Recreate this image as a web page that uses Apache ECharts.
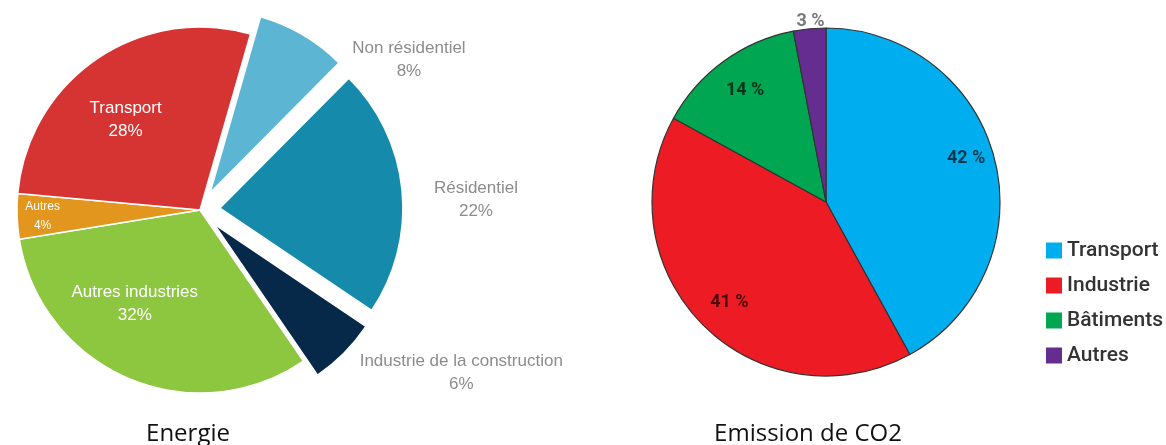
<!DOCTYPE html>
<html>
<head>
<meta charset="utf-8">
<script src="https://cdn.jsdelivr.net/npm/echarts@6/dist/echarts.min.js"></script>
<style>
  html, body { margin: 0; padding: 0; background: #fff; }
  #chart { width: 1166px; height: 445px; }
</style>
</head>
<body>
<div id="chart"></div>
<script>
const energyNames = ['Non résidentiel', 'Résidentiel', 'Industrie de la construction', 'Autres industries', 'Autres', 'Transport'];
const energyValues = [8, 22, 6, 32, 4, 28];
const co2Names = ['Transport', 'Industrie', 'Bâtiments', 'Autres'];
const co2Values = [42, 41, 14, 3];

const energyColors = ['#5bb5d3', '#168aaa', '#06294a', '#8dc63f', '#e2961e', '#d63333'];
const energyExploded = [true, true, true, false, false, false];
const energyLabelOffsets = [[151, -51], [162, 1], [180, 82], [-28, 7], [-63, 3], [-21, -12]];
const co2Colors = ['#00aeef', '#ed1c24', '#00a651', '#662d91'];
const co2LabelOffsets = [[53, -21], [-33, 37], [-28, -39], [-7, -91]];

const chart = echarts.init(document.getElementById('chart'));

const energyData = energyNames.map((name, i) => {
  const outside = energyExploded[i];
  const small = name === 'Autres';
  const label = {
    offset: energyLabelOffsets[i],
    color: outside ? '#8c8c8c' : '#ffffff',
    fontSize: small ? 12 : 17,
    lineHeight: small ? 19 : 23,
  };
  return {
    name,
    value: energyValues[i],
    selected: outside,
    itemStyle: { color: energyColors[i] },
    label,
    select: { label, itemStyle: { color: energyColors[i] } },
  };
});

const co2Data = co2Names.map((name, i) => ({
  name,
  value: co2Values[i],
  itemStyle: { color: co2Colors[i] },
  label: {
    offset: co2LabelOffsets[i],
    color: name === 'Autres' ? '#7a7a7a' : 'rgba(0,0,0,0.68)',
  },
}));

const titleStyle = { fontFamily: 'Open Sans', fontSize: 24, fontWeight: 'normal', color: '#111' };

chart.setOption({
  animation: false,
  title: [
    { text: 'Energie', left: 183, top: 417, textAlign: 'center', textStyle: titleStyle },
    { text: 'Emission de CO2', left: 803, top: 417, textAlign: 'center', textStyle: titleStyle },
  ],
  legend: {
    orient: 'vertical',
    left: 1041,
    top: 235,
    itemWidth: 16,
    itemHeight: 16,
    itemGap: 14,
    selectedMode: false,
    textStyle: { fontFamily: 'Roboto', fontSize: 21, fontWeight: 500, color: '#333' },
    data: co2Names.map((name, i) => ({ name, icon: 'rect', itemStyle: { color: co2Colors[i], borderWidth: 0 } })),
  },
  series: [
    {
      type: 'pie',
      center: [200, 210],
      radius: 183,
      startAngle: 74,
      selectedMode: 'multiple',
      selectedOffset: 20,
      itemStyle: { borderColor: '#fff', borderWidth: 1.5 },
      label: {
        position: 'inside',
        fontFamily: 'Liberation Sans',
        formatter: (p) => p.name + '\n' + p.value + '%',
      },
      labelLine: { show: false },
      emphasis: { disabled: true },
      data: energyData,
    },
    {
      type: 'pie',
      center: [826, 202],
      radius: 174,
      startAngle: 90,
      itemStyle: { borderColor: '#333', borderWidth: 1.2 },
      label: {
        position: 'inside',
        fontFamily: 'Roboto',
        fontSize: 18,
        fontWeight: 'bold',
        formatter: (p) => p.value + ' %',
      },
      labelLine: { show: false },
      emphasis: { disabled: true },
      data: co2Data,
    },
  ],
});
</script>
</body>
</html>
